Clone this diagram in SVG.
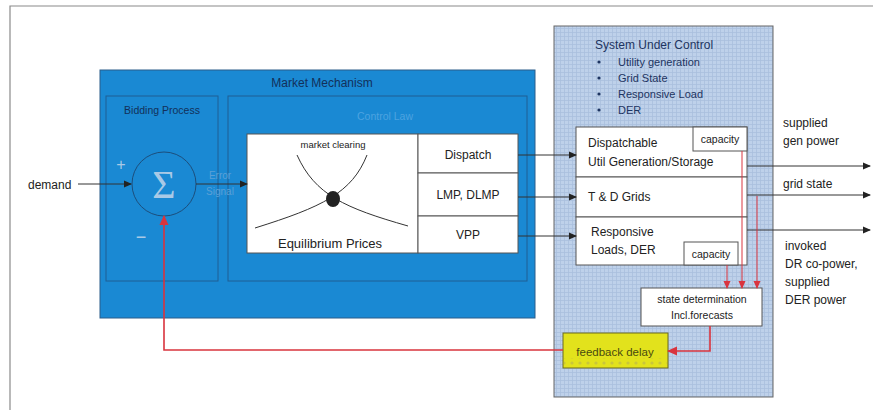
<svg xmlns="http://www.w3.org/2000/svg" width="873" height="410" viewBox="0 0 873 410">
<defs>
<style>
text{font-family:"Liberation Sans",Arial,sans-serif;}
.frame{fill:none;stroke:#8a8a8a;stroke-width:1.2}
.blue{fill:#1a89d3;stroke:#2a5d8a;stroke-width:1}
.inner{fill:none;stroke:#1f5f94;stroke-width:1}
.wbox{fill:#ffffff;stroke:#555;stroke-width:1}
.dk{stroke:#333;stroke-width:1;fill:none}
.red{stroke:#d9343e;stroke-width:1.6;fill:none}
.redt{stroke:#d9343e;stroke-width:1;fill:none}
.navy{fill:#13305a}
.t12{font-size:12px;fill:#222}
.t11{font-size:11px;fill:#222}
.t10{font-size:10.5px;fill:#222}
.suc{font-size:11px;fill:#1d3461}
</style>
<pattern id="grid" width="4" height="4" patternUnits="userSpaceOnUse">
<rect width="4" height="4" fill="#bed1ea"/>
<path d="M0 0.5H4M0.5 0V4" stroke="#a9bfdd" stroke-width="0.8"/>
</pattern>
<pattern id="dots" width="8" height="6" patternUnits="userSpaceOnUse">
<rect width="8" height="6" fill="#e2e21c"/>
<circle cx="4" cy="3" r="1.6" fill="#c9c63a"/>
</pattern>
<marker id="ah" markerWidth="8" markerHeight="8" refX="7" refY="4" orient="auto" markerUnits="userSpaceOnUse">
<path d="M0,0.5 L8,4 L0,7.5 Z" fill="#222"/>
</marker>
<marker id="ahr" markerWidth="10" markerHeight="10" refX="9" refY="5" orient="auto" markerUnits="userSpaceOnUse">
<path d="M0,0.5 L10,5 L0,9.5 Z" fill="#d9343e"/>
</marker>
<marker id="ahrs" markerWidth="8" markerHeight="8" refX="7" refY="4" orient="auto" markerUnits="userSpaceOnUse">
<path d="M0,0.5 L8,4 L0,7.5 Z" fill="#d9343e"/>
</marker>
</defs>

<rect width="873" height="410" fill="#ffffff"/>
<path class="frame" d="M10,410 V6 H873"/>

<g id="market-mechanism">
<rect class="blue" x="100" y="70" width="435" height="248"/>
<text x="322" y="87" text-anchor="middle" font-size="12" class="navy">Market Mechanism</text>
</g>

<g id="bidding-process">
<rect class="inner" x="106" y="96" width="112" height="185"/>
<text x="162" y="114" text-anchor="middle" font-size="10.5" class="navy">Bidding Process</text>
</g>

<g id="sum">
<circle cx="164" cy="184" r="32" fill="none" stroke="#1c4e7c" stroke-width="1"/>
<text x="164" y="198" text-anchor="middle" font-size="40" fill="#a9c9e6" style="font-family:'Liberation Serif',serif">Σ</text>
<text x="121" y="170" text-anchor="middle" font-size="16" fill="#a9c9e6">+</text>
<text x="141" y="243" text-anchor="middle" font-size="18" fill="#a9c9e6">−</text>
</g>

<g id="control-law">
<rect class="inner" x="228" y="96" width="299" height="185"/>
<text x="385" y="120" text-anchor="middle" font-size="10.5" fill="#4da3e0">Control Law</text>
</g>

<g id="equilibrium">
<rect class="wbox" x="247" y="134" width="171" height="119"/>
<text x="333" y="148" text-anchor="middle" font-size="9.5" fill="#222">market clearing</text>
<path d="M297,155 C315,195 345,208 408,226" class="dk" stroke-width="1.2"/>
<path d="M367,155 C352,193 322,207 255,228" class="dk" stroke-width="1.2"/>
<ellipse cx="333" cy="199" rx="7" ry="8" fill="#222"/>
<text x="330" y="248" text-anchor="middle" font-size="13" fill="#222">Equilibrium Prices</text>
</g>

<g id="dispatch">
<rect class="wbox" x="418" y="134" width="100" height="39"/>
<text x="468" y="159" text-anchor="middle" class="t12">Dispatch</text>
</g>
<g id="lmp">
<rect class="wbox" x="418" y="173" width="100" height="43"/>
<text x="468" y="199" text-anchor="middle" class="t12">LMP, DLMP</text>
</g>
<g id="vpp">
<rect class="wbox" x="418" y="216" width="100" height="37"/>
<text x="468" y="239" text-anchor="middle" class="t12">VPP</text>
</g>

<g id="system-under-control">
<rect x="554" y="26" width="219" height="371" fill="url(#grid)" stroke="#666" stroke-width="1"/>
<text x="595" y="49" font-size="12" fill="#1d3461">System Under Control</text>
<g class="suc">
<circle cx="599" cy="62" r="1.6" fill="#1d3461"/><text x="618" y="66">Utility generation</text>
<circle cx="599" cy="78" r="1.6" fill="#1d3461"/><text x="618" y="82">Grid State</text>
<circle cx="599" cy="94" r="1.6" fill="#1d3461"/><text x="618" y="98">Responsive Load</text>
<circle cx="599" cy="110" r="1.6" fill="#1d3461"/><text x="618" y="114">DER</text>
</g>
</g>

<g id="util-generation">
<rect class="wbox" x="576" y="127" width="171" height="50"/>
<text x="588" y="147" class="t12">Dispatchable</text>
<text x="588" y="166" class="t12">Util Generation/Storage</text>
</g>
<g id="capacity-1">
<rect class="wbox" x="693" y="127" width="54" height="24"/>
<text x="720" y="143" text-anchor="middle" class="t10">capacity</text>
</g>
<g id="td-grids">
<rect class="wbox" x="576" y="177" width="171" height="40"/>
<text x="588" y="201" class="t12">T &amp; D Grids</text>
</g>
<g id="responsive-loads">
<rect class="wbox" x="576" y="217" width="171" height="48"/>
<text x="591" y="236" class="t12">Responsive</text>
<text x="591" y="254" class="t12">Loads, DER</text>
</g>
<g id="capacity-2">
<rect class="wbox" x="684" y="242" width="54" height="23"/>
<text x="711" y="258" text-anchor="middle" class="t10">capacity</text>
</g>

<g id="state-determination">
<rect class="wbox" x="641" y="288" width="121" height="38"/>
<text x="702" y="303" text-anchor="middle" class="t10">state determination</text>
<text x="702" y="319" text-anchor="middle" class="t10">Incl.forecasts</text>
</g>

<g id="feedback-delay">
<rect x="563" y="333" width="105" height="35" fill="#e2e21c" stroke="#6b6b20" stroke-width="1"/>
<rect x="564" y="358" width="103" height="9" fill="url(#dots)"/>
<text x="615" y="356" text-anchor="middle" font-size="11.5" fill="#4a4a10">feedback delay</text>
</g>

<g id="labels">
<text x="28" y="189" class="t12">demand</text>
<text x="220" y="179" text-anchor="middle" font-size="10" fill="#5aa0d6">Error</text>
<text x="220" y="195" text-anchor="middle" font-size="10" fill="#5aa0d6">Signal</text>
<text x="783" y="127" class="t12">supplied</text>
<text x="783" y="145" class="t12">gen power</text>
<text x="783" y="188" class="t12">grid state</text>
<text x="785" y="250" class="t12">invoked</text>
<text x="785" y="268" class="t12">DR co-power,</text>
<text x="785" y="286" class="t12">supplied</text>
<text x="785" y="304" class="t12">DER power</text>
</g>

<g id="connectors">
<path class="dk" d="M78,184 H131" stroke="#555" marker-end="url(#ah)"/>
<path class="dk" d="M196,184 H247" stroke="#1c4e7c" marker-end="url(#ah)"/>
<path class="dk" d="M518,155 H576" marker-end="url(#ah)"/>
<path class="dk" d="M518,197 H576" marker-end="url(#ah)"/>
<path class="dk" d="M518,236 H576" marker-end="url(#ah)"/>
<path class="dk" d="M747,166 H870" marker-end="url(#ah)"/>
<path class="dk" d="M747,195 H870" marker-end="url(#ah)"/>
<path class="dk" d="M747,230 H870" marker-end="url(#ah)"/>
<path class="redt" d="M742,151 V288" marker-end="url(#ahrs)"/>
<path class="redt" d="M757,196 V288" marker-end="url(#ahrs)"/>
<path class="redt" d="M727,265 V288" marker-end="url(#ahrs)"/>
<path class="red" d="M710,326 V351 H668" marker-end="url(#ahr)"/>
<path class="red" d="M563,350 H164 V216" marker-end="url(#ahr)"/>
</g>
</svg>
